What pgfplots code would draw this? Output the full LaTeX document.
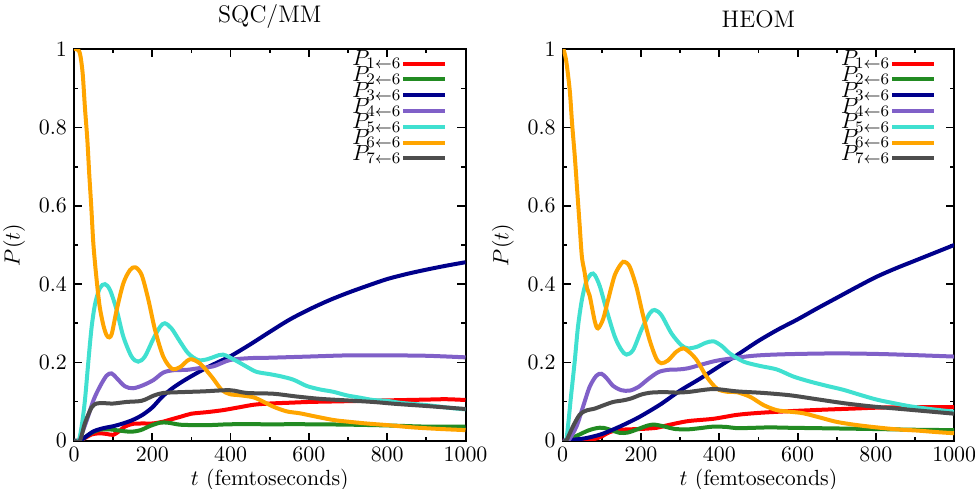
\documentclass[border=0pt]{standalone}
\usepackage{pgfplots}
\pgfplotsset{compat=1.18}

\definecolor{cred}{RGB}{255,0,0}
\definecolor{cgreen}{RGB}{34,139,34}
\definecolor{cblue}{RGB}{0,0,139}
\definecolor{cpurple}{RGB}{128,96,200}
\definecolor{ccyan}{RGB}{64,224,208}
\definecolor{corange}{RGB}{255,165,0}
\definecolor{cgray}{RGB}{77,77,77}

\pgfplotsset{
  panel/.style={
    scale only axis,
    width=195.75pt, height=195.7pt,
    xmin=0, xmax=1000, ymin=0, ymax=1,
    xtick={0,200,400,600,800,1000},
    ytick={0,0.2,0.4,0.6,0.8,1},
    minor x tick num=1, minor y tick num=1,
    tick align=inside, xtick pos=both, ytick pos=both,
    major tick length=4pt, minor tick length=2pt,
    every tick/.style={black, line width=0.9pt},
    axis line style={line width=1pt},
    scaled ticks=false,
    /pgf/number format/1000 sep={},
    ticklabel style={font=\fontsize{10.95}{13}\selectfont},
    label style={font=\fontsize{10.95}{13}\selectfont},
    xlabel={$t$ (femtoseconds)},
    ylabel={$P(t)$},
    xlabel style={yshift=3.5pt},
    title style={font=\large, yshift=1pt},
    legend plot pos=right,
    legend cell align=right,
    legend image code/.code={\draw (0pt,0pt) -- (21pt,0pt);},
    legend style={at={(1,1)}, anchor=north east, xshift=-8.85pt, yshift=-3pt,
      draw=none, fill=none, inner sep=0pt, row sep=0pt,
      font=\fontsize{10.95}{13}\selectfont,
      nodes={inner sep=0pt, text height=5pt, text depth=2.9pt},
      /tikz/every even column/.append style={column sep=5pt}},
    every axis plot/.append style={line width=2pt, smooth, tension=0.5},
  },
}

\begin{document}
\begin{tikzpicture}
% ---------- SQC/MM ----------
\begin{axis}[panel, title={SQC/MM}]
\addplot[cred] coordinates {(0,0) (15,0) (30,0.008) (45,0.016) (65,0.019) (85,0.017) (100,0.015) (115,0.024) (130,0.036) (150,0.043) (175,0.044) (200,0.044) (225,0.048) (250,0.055) (275,0.062) (300,0.069) (340,0.073) (380,0.078) (420,0.085) (460,0.092) (500,0.095) (550,0.097) (600,0.099) (650,0.1) (700,0.101) (750,0.102) (800,0.103) (850,0.104) (900,0.105) (950,0.106) (1000,0.104)};
\addlegendentry{$P_{1\leftarrow 6}$}
\addplot[cgreen] coordinates {(0,0) (15,0) (30,0.01) (45,0.02) (65,0.028) (90,0.029) (115,0.026) (145,0.023) (170,0.027) (195,0.038) (220,0.046) (240,0.046) (270,0.041) (300,0.040) (350,0.040) (400,0.042) (500,0.042) (600,0.042) (700,0.041) (800,0.039) (900,0.036) (1000,0.036)};
\addlegendentry{$P_{2\leftarrow 6}$}
\addplot[cblue] coordinates {(0,0) (15,0) (30,0.01) (50,0.024) (75,0.032) (100,0.037) (125,0.044) (150,0.053) (175,0.066) (200,0.085) (225,0.112) (250,0.133) (275,0.15) (300,0.165) (325,0.179) (350,0.192) (375,0.204) (400,0.216) (450,0.246) (500,0.278) (550,0.309) (600,0.335) (650,0.358) (700,0.378) (750,0.396) (800,0.413) (850,0.426) (900,0.437) (950,0.447) (1000,0.456)};
\addlegendentry{$P_{3\leftarrow 6}$}
\addplot[cpurple] coordinates {(0,0) (12,0) (30,0.045) (50,0.104) (66,0.138) (83,0.166) (96,0.172) (109,0.16) (130,0.139) (151,0.134) (177,0.142) (203,0.155) (228,0.174) (254,0.18) (288,0.181) (317,0.185) (356,0.19) (398,0.206) (450,0.211) (500,0.212) (600,0.215) (700,0.218) (800,0.218) (900,0.217) (1000,0.213)};
\addlegendentry{$P_{4\leftarrow 6}$}
\addplot[ccyan] coordinates {(0,0) (12,0) (20,0.04) (28,0.104) (37,0.206) (45,0.29) (54,0.35) (66,0.39) (79,0.40) (92,0.385) (109,0.334) (126,0.266) (147,0.215) (164,0.202) (181,0.215) (203,0.261) (220,0.291) (232,0.30) (249,0.287) (271,0.253) (292,0.223) (317,0.206) (340,0.208) (360,0.215) (381,0.22) (411,0.206) (441,0.189) (466,0.176) (500,0.17) (526,0.165) (560,0.156) (594,0.14) (628,0.131) (662,0.125) (696,0.116) (730,0.11) (764,0.104) (798,0.102) (832,0.097) (866,0.094) (900,0.091) (934,0.087) (968,0.083) (1000,0.08)};
\addlegendentry{$P_{5\leftarrow 6}$}
\addplot[corange] coordinates {(0,1) (7,1) (15,0.99) (22,0.94) (28,0.85) (34,0.77) (39,0.68) (44,0.60) (49,0.51) (54,0.45) (60,0.39) (66,0.34) (75,0.295) (83,0.27) (90,0.264) (97,0.275) (109,0.334) (126,0.402) (143,0.436) (157,0.443) (173,0.423) (190,0.36) (207,0.283) (228,0.215) (250,0.184) (271,0.188) (296,0.208) (322,0.197) (352,0.163) (377,0.13) (398,0.119) (424,0.116) (458,0.111) (483,0.1) (509,0.087) (543,0.075) (577,0.07) (611,0.063) (662,0.053) (696,0.049) (747,0.044) (798,0.04) (866,0.034) (934,0.03) (1000,0.027)};
\addlegendentry{$P_{6\leftarrow 6}$}
\addplot[cgray] coordinates {(0,0) (15,0) (28,0.045) (45,0.085) (58,0.095) (75,0.096) (100,0.095) (134,0.099) (173,0.102) (203,0.115) (228,0.122) (271,0.124) (330,0.126) (398,0.129) (441,0.122) (509,0.12) (568,0.113) (628,0.107) (696,0.103) (764,0.099) (823,0.094) (909,0.088) (1000,0.081)};
\addlegendentry{$P_{7\leftarrow 6}$}
\end{axis}

% ---------- HEOM ----------
\begin{axis}[panel, title={HEOM}, at={(244.35pt,0pt)}]
\addplot[cred] coordinates {(0,0) (50,0) (80,0.004) (100,0.011) (120,0.022) (150,0.028) (200,0.03) (240,0.033) (270,0.04) (320,0.05) (385,0.056) (445,0.066) (500,0.071) (570,0.075) (660,0.079) (740,0.082) (830,0.085) (1000,0.086)};
\addlegendentry{$P_{1\leftarrow 6}$}
\addplot[cgreen] coordinates {(0,0) (9,0) (39,0.014) (65,0.026) (86,0.032) (103,0.033) (124,0.027) (146,0.02) (167,0.021) (193,0.03) (218,0.039) (235,0.041) (261,0.036) (286,0.03) (320,0.029) (350,0.032) (385,0.036) (420,0.035) (445,0.032) (490,0.033) (530,0.034) (580,0.033) (650,0.032) (785,0.03) (900,0.028) (1000,0.027)};
\addlegendentry{$P_{2\leftarrow 6}$}
\addplot[cblue] coordinates {(0,0) (20,0.002) (50,0.005) (75,0.01) (100,0.017) (125,0.027) (150,0.038) (175,0.05) (200,0.063) (250,0.093) (300,0.128) (350,0.158) (400,0.19) (450,0.222) (500,0.255) (550,0.284) (600,0.31) (650,0.338) (700,0.365) (750,0.392) (800,0.418) (850,0.44) (900,0.46) (950,0.48) (1000,0.5)};
\addlegendentry{$P_{3\leftarrow 6}$}
\addplot[cpurple] coordinates {(0,0) (14,0) (35,0.036) (52,0.087) (69,0.138) (86,0.166) (99,0.171) (112,0.16) (129,0.14) (150,0.129) (171,0.128) (193,0.137) (218,0.157) (244,0.175) (269,0.181) (295,0.182) (320,0.185) (360,0.196) (402,0.206) (487,0.217) (572,0.221) (700,0.223) (828,0.221) (1000,0.215)};
\addlegendentry{$P_{4\leftarrow 6}$}
\addplot[ccyan] coordinates {(0,0) (9,0) (22,0.121) (31,0.206) (39,0.291) (49,0.36) (60,0.406) (73,0.426) (82,0.423) (95,0.394) (112,0.334) (133,0.266) (150,0.232) (163,0.22) (180,0.232) (201,0.283) (222,0.325) (235,0.334) (252,0.321) (278,0.274) (303,0.244) (320,0.236) (343,0.24) (365,0.25) (385,0.254) (405,0.243) (427,0.223) (462,0.202) (504,0.191) (547,0.182) (589,0.164) (632,0.151) (675,0.14) (717,0.13) (760,0.117) (802,0.105) (845,0.096) (887,0.088) (930,0.082) (973,0.077) (1000,0.074)};
\addlegendentry{$P_{5\leftarrow 6}$}
\addplot[corange] coordinates {(0,1) (2,1) (9,0.97) (18,0.895) (24,0.81) (31,0.725) (37,0.64) (43,0.555) (49,0.47) (56,0.43) (62,0.39) (69,0.37) (82,0.305) (90,0.287) (103,0.31) (116,0.36) (133,0.423) (150,0.453) (158,0.457) (171,0.445) (188,0.394) (205,0.321) (222,0.257) (239,0.21) (252,0.198) (269,0.205) (290,0.227) (308,0.236) (325,0.225) (343,0.205) (368,0.163) (394,0.133) (420,0.125) (445,0.124) (479,0.112) (513,0.091) (547,0.078) (581,0.074) (615,0.07) (658,0.059) (700,0.048) (751,0.04) (802,0.034) (853,0.029) (904,0.026) (955,0.022) (1000,0.019)};
\addlegendentry{$P_{6\leftarrow 6}$}
\addplot[cgray] coordinates {(0,0) (9,0) (26,0.036) (43,0.066) (60,0.077) (82,0.082) (103,0.09) (129,0.099) (154,0.103) (175,0.108) (201,0.118) (227,0.123) (261,0.124) (295,0.123) (325,0.125) (385,0.132) (445,0.126) (513,0.122) (581,0.116) (649,0.106) (717,0.096) (785,0.088) (853,0.082) (921,0.076) (1000,0.069)};
\addlegendentry{$P_{7\leftarrow 6}$}
\end{axis}
\pgfresetboundingbox
\path (-37pt,-23.65pt) rectangle (450.5pt,220.35pt);
\end{tikzpicture}
\end{document}
